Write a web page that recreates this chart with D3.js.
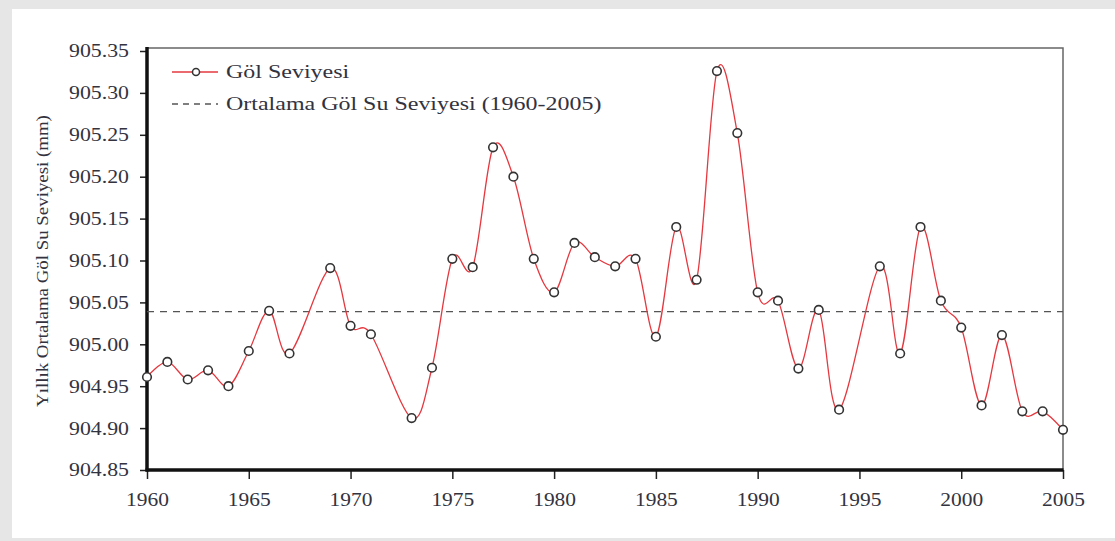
<!DOCTYPE html>
<html>
<head>
<meta charset="utf-8">
<script src="https://cdn.jsdelivr.net/npm/d3@7"></script>
<style>
  body { margin: 0; background: #fff; }
  svg text { font-family: "Liberation Serif", "DejaVu Serif", serif; fill: #333340; }
</style>
</head>
<body>
<div id="chart"></div>
<script>
// yearly lake level (1968, 1972, 1995 have no point in the source)
var years = [1960, 1961, 1962, 1963, 1964, 1965, 1966, 1967, 1969, 1970, 1971,
             1973, 1974, 1975, 1976, 1977, 1978, 1979, 1980, 1981, 1982, 1983,
             1984, 1985, 1986, 1987, 1988, 1989, 1990, 1991, 1992, 1993, 1994,
             1996, 1997, 1998, 1999, 2000, 2001, 2002, 2003, 2004, 2005];
var levels = [904.961, 904.979, 904.958, 904.969, 904.950, 904.992, 905.040, 904.989, 905.091, 905.022, 905.012,
              904.912, 904.972, 905.102, 905.092, 905.235, 905.200, 905.102, 905.062, 905.121, 905.104, 905.093,
              905.102, 905.009, 905.140, 905.077, 905.326, 905.252, 905.062, 905.052, 904.971, 905.041, 904.922,
              905.093, 904.989, 905.140, 905.052, 905.020, 904.927, 905.011, 904.920, 904.920, 904.898];
var meanLevel = 905.039;
var yTicks = [904.85, 904.90, 904.95, 905.00, 905.05, 905.10, 905.15, 905.20, 905.25, 905.30, 905.35];
var xTicks = [1960, 1965, 1970, 1975, 1980, 1985, 1990, 1995, 2000, 2005];
var legendLabels = ["Göl Seviyesi", "Ortalama Göl Su Seviyesi (1960-2005)"];
var yTitle = "Yıllık Ortalama Göl Su Seviyesi (mm)";

var W = 1115, H = 541;
var svg = d3.select("#chart").append("svg").attr("width", W).attr("height", H);

// page frame
svg.append("rect").attr("width", W).attr("height", H).attr("fill", "#e6e6e6");
svg.append("rect").attr("x", 12).attr("y", 9).attr("width", W - 12).attr("height", 529).attr("fill", "#fff");

var x = d3.scaleLinear().domain([1960, 2005]).range([147, 1063]);
var y = d3.scaleLinear().domain([904.85, 905.35]).range([470, 51]);

// widen glyphs horizontally (the source face is wider than Times)
function widen(sel, k) {
  sel.each(function() {
    var t = d3.select(this);
    var tx = +t.attr("x") || 0, ty = +t.attr("y") || 0;
    t.attr("x", 0).attr("y", 0)
     .attr("transform", "translate(" + tx + "," + ty + ") scale(" + k + ",1)");
  });
}

// plot frame (top & right thin)
svg.append("path")
    .attr("d", "M147,48H1063V470")
    .attr("fill", "none").attr("stroke", "#666").attr("stroke-width", 1.5);

var yAxis = svg.append("g").attr("transform", "translate(147,0)")
    .call(d3.axisLeft(y).tickValues(yTicks).tickFormat(d3.format(".2f")).tickSize(7).tickSizeOuter(0).tickPadding(11));
yAxis.select(".domain").remove();
yAxis.selectAll(".tick line").attr("stroke", "#222").attr("stroke-width", 1.5);
yAxis.selectAll(".tick text").attr("font-size", 18.5).attr("font-family", "Liberation Serif").attr("fill", "#333340").call(widen, 1.18);

var xAxis = svg.append("g").attr("transform", "translate(0,470)")
    .call(d3.axisBottom(x).tickValues(xTicks).tickFormat(d3.format("d")).tickSize(9).tickSizeOuter(0).tickPadding(14));
xAxis.select(".domain").remove();
xAxis.selectAll(".tick line").attr("stroke", "#222").attr("stroke-width", 1.5);
xAxis.selectAll(".tick text").attr("font-size", 18.5).attr("font-family", "Liberation Serif").attr("fill", "#333340").call(widen, 1.16);

// thick axis lines
svg.append("line").attr("x1", 147).attr("x2", 147).attr("y1", 47).attr("y2", 471.5)
    .attr("stroke", "#111").attr("stroke-width", 3.5);
svg.append("line").attr("x1", 145.5).attr("x2", 1063.5).attr("y1", 470).attr("y2", 470)
    .attr("stroke", "#111").attr("stroke-width", 3.5);

// mean line
svg.append("line")
    .attr("x1", x(1960)).attr("x2", x(2005)).attr("y1", y(meanLevel)).attr("y2", y(meanLevel))
    .attr("stroke", "#555").attr("stroke-width", 1.3).attr("stroke-dasharray", "7,6");

var pts = years.map(function(yr, i) { return { year: yr, value: levels[i] }; });

var line = d3.line()
    .x(function(d) { return x(d.year); })
    .y(function(d) { return y(d.value); })
    .curve(d3.curveCatmullRom.alpha(0));

svg.append("path").datum(pts)
    .attr("d", line)
    .attr("fill", "none").attr("stroke", "#e5383f").attr("stroke-width", 1.3);

svg.selectAll("circle.pt").data(pts).enter().append("circle")
    .attr("class", "pt")
    .attr("cx", function(d) { return x(d.year); })
    .attr("cy", function(d) { return y(d.value); })
    .attr("r", 4.3)
    .attr("fill", "#fff").attr("stroke", "#333").attr("stroke-width", 1.6);

// legend
var lg = svg.append("g");
lg.append("line").attr("x1", 172).attr("x2", 218).attr("y1", 72).attr("y2", 72)
    .attr("stroke", "#e5383f").attr("stroke-width", 1.3);
lg.append("circle").attr("cx", 196).attr("cy", 72).attr("r", 3.5)
    .attr("fill", "#fff").attr("stroke", "#333").attr("stroke-width", 1.5);
lg.append("line").attr("x1", 172).attr("x2", 218).attr("y1", 104).attr("y2", 104)
    .attr("stroke", "#555").attr("stroke-width", 1.3).attr("stroke-dasharray", "6,5");
lg.selectAll("text").data(legendLabels).enter().append("text")
    .attr("x", 226)
    .attr("y", function(d, i) { return 78 + i * 32; })
    .attr("font-size", 19.5)
    .text(function(d) { return d; })
    .call(widen, 1.23);

// y title
var yt = svg.append("text")
    .attr("text-anchor", "middle")
    .attr("font-size", 17.5)
    .text(yTitle);
var ytLen = yt.node().getComputedTextLength();
yt.attr("transform", "translate(48,261) rotate(-90) scale(" + (292 / ytLen) + ",1)");
</script>
</body>
</html>
